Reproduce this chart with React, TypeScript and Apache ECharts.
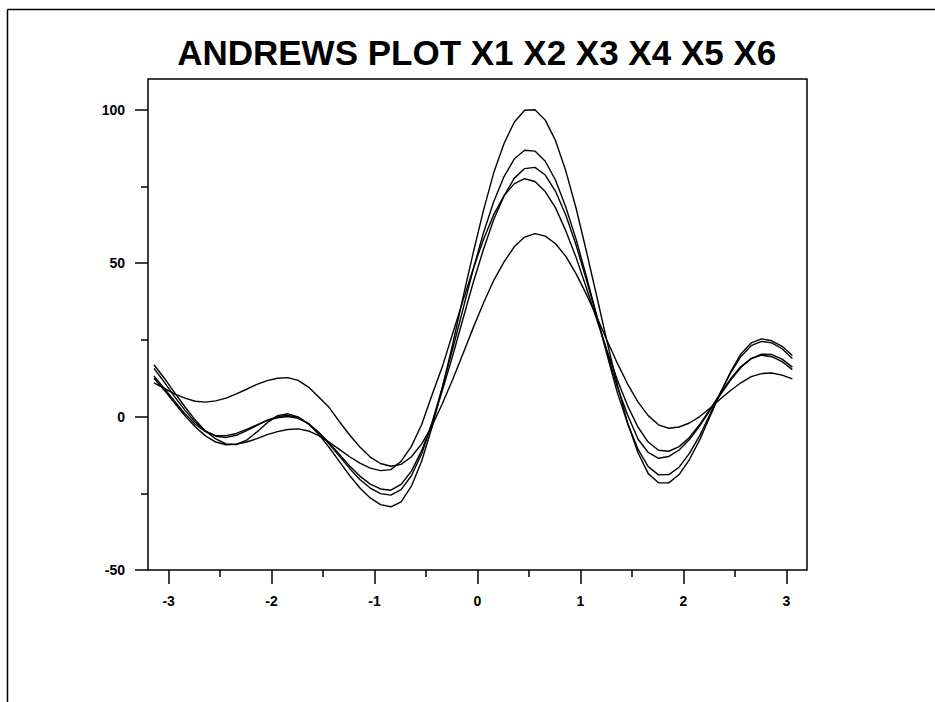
import React, { useEffect, useRef } from "react";
import * as echarts from "echarts";

// Parameter t (x axis) of the Andrews curves
const tValues = [
  -3.142, -3.042, -2.942, -2.842, -2.742, -2.642, -2.542, -2.442, -2.342, -2.242,
  -2.142, -2.042, -1.942, -1.842, -1.742, -1.642, -1.542, -1.442, -1.342, -1.242,
  -1.142, -1.042, -0.942, -0.842, -0.742, -0.642, -0.542, -0.442, -0.342, -0.242,
  -0.142, -0.042, 0.058, 0.158, 0.258, 0.358, 0.458, 0.558, 0.658, 0.758,
  0.858, 0.958, 1.058, 1.158, 1.258, 1.358, 1.458, 1.558, 1.658, 1.758,
  1.858, 1.958, 2.058, 2.158, 2.258, 2.358, 2.458, 2.558, 2.658, 2.758,
  2.858, 2.958, 3.058,
];

const curve1 = [
  16.9, 12.5, 7.8, 3.2, -1.1, -4.7, -7.3, -8.9, -9.1, -7.7,
  -5.0, -2.0, 0.3, 0.9, -0.1, -2.4, -5.8, -10.0, -14.6, -19.2,
  -23.3, -26.5, -28.7, -29.4, -27.8, -22.7, -14.5, -3.5, 9.3, 23.4,
  38.7, 53.3, 67.2, 79.5, 89.0, 96.0, 99.8, 100.0, 96.6, 89.9,
  80.0, 67.8, 53.8, 39.2, 24.4, 10.4, -2.1, -11.7, -18.6, -21.6,
  -21.6, -18.9, -14.0, -7.6, 0.0, 7.6, 14.6, 20.4, 24.0, 25.3,
  24.7, 22.9, 19.9,
];

const curve2 = [
  15.7, 11.2, 6.5, 2.1, -1.8, -4.7, -6.4, -6.8, -6.1, -4.6,
  -2.9, -1.2, 0.0, 0.4, -0.3, -2.3, -5.3, -8.9, -12.9, -16.9,
  -20.5, -23.3, -25.1, -25.6, -23.8, -19.3, -12.1, -2.2, 9.6, 21.9,
  34.9, 47.9, 59.9, 70.1, 78.2, 84.0, 86.8, 86.5, 83.2, 77.0,
  68.2, 57.7, 45.6, 32.9, 20.1, 7.8, -2.3, -10.6, -16.3, -19.0,
  -18.9, -16.5, -12.0, -6.2, 0.7, 7.7, 14.2, 19.6, 23.1, 24.5,
  24.0, 22.1, 18.9,
];

const curve3 = [
  13.2, 9.2, 5.0, 0.9, -2.5, -4.9, -6.2, -6.2, -5.5, -4.2,
  -2.7, -1.3, -0.4, 0.0, -0.6, -2.3, -5.1, -8.5, -12.3, -16.1,
  -19.4, -22.0, -23.6, -24.0, -22.1, -17.8, -11.1, -2.1, 8.4, 19.7,
  31.7, 43.6, 54.5, 64.2, 71.9, 77.7, 80.8, 81.2, 78.7, 73.4,
  65.6, 55.8, 44.5, 32.7, 20.8, 9.6, 0.5, -7.3, -11.7, -13.6,
  -13.0, -10.9, -7.5, -3.0, 2.0, 7.1, 11.9, 16.0, 18.9, 20.3,
  20.2, 18.7, 16.1,
];

const curve4 = [
  12.5, 8.6, 4.4, 0.3, -3.3, -6.3, -8.3, -9.2, -9.0, -8.3,
  -7.2, -5.9, -4.9, -4.2, -4.0, -4.7, -6.2, -8.3, -10.7, -13.1,
  -15.2, -16.8, -17.6, -17.3, -14.6, -9.7, -2.6, 7.0, 16.2, 27.0,
  37.7, 48.1, 57.7, 65.8, 72.0, 75.9, 77.5, 76.6, 73.3, 68.0,
  60.5, 51.8, 41.9, 31.6, 21.5, 11.9, 3.5, -3.4, -8.3, -11.0,
  -11.3, -9.8, -6.8, -2.6, 2.4, 7.5, 12.3, 16.3, 18.9, 20.0,
  19.5, 17.9, 15.3,
];

const curve5 = [
  11.0, 9.2, 7.4, 6.0, 5.0, 4.7, 5.1, 6.0, 7.4, 8.9,
  10.5, 11.7, 12.5, 12.7, 11.8, 9.6, 6.4, 3.0, -1.6, -6.0,
  -9.9, -13.2, -15.3, -16.2, -15.6, -13.1, -8.9, -3.1, 4.2, 12.0,
  20.4, 28.9, 37.0, 44.4, 50.4, 55.4, 58.5, 59.6, 58.8, 56.3,
  52.2, 46.5, 39.8, 32.5, 24.8, 17.4, 10.6, 4.8, 0.3, -2.7,
  -3.8, -3.4, -2.1, 0.0, 2.7, 5.7, 8.5, 11.0, 13.0, 14.0,
  14.2, 13.5, 12.3,
];

const titleText = "ANDREWS PLOT X1 X2 X3 X4 X5 X6";

export default function App() {
  const ref = useRef<HTMLDivElement>(null);

  useEffect(() => {
    if (!ref.current) return;
    const chart = echarts.init(ref.current, null, { renderer: "svg" });
    const font = "'Liberation Sans', Arial, Helvetica, sans-serif";
    const curves = [curve1, curve2, curve3, curve4, curve5];

    const gLeft = 148;
    const gTop = 79;
    const gW = 659;
    const gH = 491;
    const xMin = -3.2;
    const xMax = 3.2;
    const yMin = -50;
    const yMax = 110;
    const kx = gW / (xMax - xMin);
    const ky = gH / (yMax - yMin);

    const tickStyle = { color: "#000", width: 1.5 };
    const labelStyle = {
      color: "#000",
      fontSize: 14,
      fontWeight: "bold" as const,
      fontFamily: font,
    };

    chart.setOption({
      animation: false,
      backgroundColor: "#fff",
      grid: [
        {
          left: gLeft,
          top: gTop,
          width: gW,
          height: gH,
          show: true,
          borderColor: "#000",
          borderWidth: 1.5,
          backgroundColor: "transparent",
        },
        {
          left: gLeft + (-3 - xMin) * kx,
          top: gTop + (yMax - 100) * ky,
          width: 6 * kx,
          height: 150 * ky,
          show: false,
        },
      ],
      xAxis: [
        { type: "value", gridIndex: 0, min: xMin, max: xMax, show: false },
        {
          type: "value",
          gridIndex: 1,
          min: -3,
          max: 3,
          interval: 1,
          position: "bottom",
          axisLine: { show: false, onZero: false },
          axisTick: { show: true, length: 14, lineStyle: tickStyle },
          minorTick: { show: true, splitNumber: 2, length: 7, lineStyle: tickStyle },
          splitLine: { show: false },
          minorSplitLine: { show: false },
          axisLabel: { margin: 24, ...labelStyle },
        },
      ],
      yAxis: [
        { type: "value", gridIndex: 0, min: yMin, max: yMax, show: false },
        {
          type: "value",
          gridIndex: 1,
          min: -50,
          max: 100,
          interval: 50,
          position: "left",
          offset: (-3 - xMin) * kx,
          axisLine: { show: false, onZero: false },
          axisTick: { show: true, length: 13, lineStyle: tickStyle },
          minorTick: { show: true, splitNumber: 2, length: 7, lineStyle: tickStyle },
          splitLine: { show: false },
          minorSplitLine: { show: false },
          axisLabel: { margin: 23, ...labelStyle },
        },
      ],
      graphic: [
        {
          type: "line",
          shape: { x1: 7.5, y1: 9.5, x2: 935, y2: 9.5 },
          style: { stroke: "#000", lineWidth: 1.5 },
          silent: true,
        },
        {
          type: "line",
          shape: { x1: 7.5, y1: 9.5, x2: 7.5, y2: 702 },
          style: { stroke: "#000", lineWidth: 1.5 },
          silent: true,
        },
        {
          type: "text",
          x: 476.7,
          y: 52.5,
          style: {
            text: titleText,
            fill: "#000",
            font: `bold 35px ${font}`,
            textAlign: "center",
            textVerticalAlign: "middle",
          },
          silent: true,
        },
      ],
      series: curves.map((c, idx) => ({
        type: "line",
        name: "obs" + (idx + 1),
        xAxisIndex: 0,
        yAxisIndex: 0,
        data: tValues.map((t, i) => [t, c[i]]),
        showSymbol: false,
        symbol: "none",
        smooth: false,
        silent: true,
        lineStyle: { color: "#000", width: 1.4 },
        emphasis: { disabled: true },
      })),
    });

    return () => {
      chart.dispose();
    };
  }, []);

  return (
    <div
      ref={ref}
      style={{ position: "absolute", left: 0, top: 0, width: 935, height: 702 }}
    />
  );
}
